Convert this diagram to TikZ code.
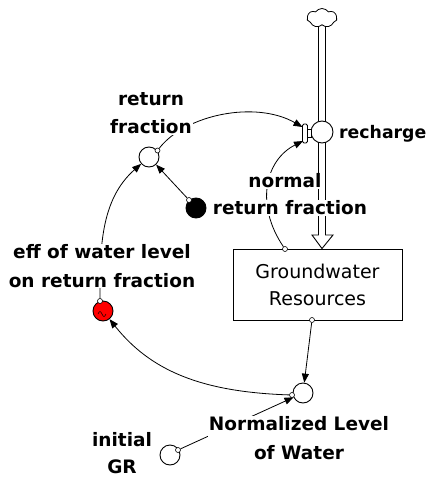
\documentclass[tikz,border=0pt]{standalone}
\usepackage{fontspec}
\setmainfont{DejaVu Sans}
\usetikzlibrary{arrows.meta,shapes.symbols,calc}
\pgfdeclarelayer{back}
\pgfdeclarelayer{bg}
\pgfsetlayers{back,bg,main}
\begin{document}
\begin{tikzpicture}[x=1pt,y=-1pt,
  lbl/.style={font=\bfseries\fontsize{18.5}{28.5}\selectfont, align=center, inner sep=1pt},
  hide/.style={fill=white},
  aux/.style={circle, draw, line width=0.9pt, fill=white, minimum size=20pt, inner sep=0},
  tailc/.style={circle, draw, line width=0.6pt, fill=white, minimum size=5pt, inner sep=0},
  link/.style={line width=0.8pt, -{Triangle[length=9pt,width=7pt]}},
  pipeline/.style={line width=0.9pt}
]
\begin{pgfonlayer}{back}
\fill[white] (0,0) rectangle (429,479);
\end{pgfonlayer}
\useasboundingbox (0,0) rectangle (429,479);

% stock, cloud, valve
\node[cloud, cloud puffs=7, cloud puff arc=110, aspect=1.6, draw, line width=0.8pt, fill=white,
      minimum width=30pt, minimum height=19pt, inner sep=0] (cl) at (322,18) {};
\node[draw, line width=0.9pt, minimum width=169pt, minimum height=71pt, inner sep=0,
      font=\fontsize{19}{27}\selectfont, align=center] (gw) at (317.5,284.5) {Groundwater\\Resources};

% labels
\node[lbl, hide, inner xsep=0pt] (nrf1) at (285,181) {normal};

\begin{pgfonlayer}{bg}
\draw[pipeline, fill=white] ($(cl.south)+(-3.5,0)$) -- (318.5,235) -- (312,235) -- (gw.north -| cl)
   -- (333,235) -- (325.5,235) -- ($(cl.south)+(3.5,0)$);
\end{pgfonlayer}

\node[lbl, hide] (nrf2) at (290,208) {return fraction};
\node[lbl, anchor=west, inner sep=0pt, font=\bfseries\fontsize{17.3}{28}\selectfont] (rch) at (339,134) {recharge};
\node[lbl, hide] (rfl) at (151,113) {return\\fraction};
\node[lbl, hide] (effl) at (102,266) {eff of water level\\on return fraction};
\node[lbl, hide] (nll) at (299,438) {Normalized Level\\of Water};
\node[lbl, inner sep=0pt, font=\bfseries\fontsize{18.5}{27}\selectfont] (igl) at (122,453) {initial\\GR};

\node[aux, minimum size=22pt] (valve) at (322,132) {};
\draw[line width=0.8pt, fill=white] (307.5,129.5) rectangle (311.5,137.5);
\node[draw, line width=0.8pt, rounded corners=1.5pt, fill=white, minimum width=5pt,
      minimum height=19pt, inner sep=0] (vb) at (305,133.5) {};
\coordinate (vin1) at (302.5,127);
\coordinate (vin2) at (303,141);

% auxiliaries
\node[aux] (rf) at (149,157) {};
\node[aux, fill=black] (nrf) at (196,208) {};
\node[aux, fill=red] (eff) at (103,311) {};
\draw[line width=0.5pt] (98,314) sin (100,311.5) cos (102,314) sin (104,316.5) cos (106,314);
\node[aux] (nl) at (303,393) {};
\node[aux] (ig) at (170,455) {};

% connector tails
\node[tailc] (t1) at (157.5,150.5) {};
\node[tailc] (t2) at (189,200) {};
\node[tailc] (t3) at (100,301) {};
\node[tailc] (t4) at (292,395) {};
\node[tailc] (t5) at (285,249) {};
\node[tailc] (t6) at (312,320) {};
\node[tailc] (t7) at (178,450) {};

\begin{pgfonlayer}{bg}
\draw[link] (t1) .. controls (185,115) and (255,100) .. (vin1);
\draw[link] (t5) .. controls (255,205) and (265,160) .. (vin2);
\draw[link] (t2) -- (rf);
\draw[link] (t3) .. controls (100,250) and (100,200) .. (rf);
\draw[link] (t4) .. controls (200,392) and (150,370) .. (eff);
\draw[link] (t6) -- (nl);
\draw[link] (t7) -- (nl);
\end{pgfonlayer}
\end{tikzpicture}
\end{document}
